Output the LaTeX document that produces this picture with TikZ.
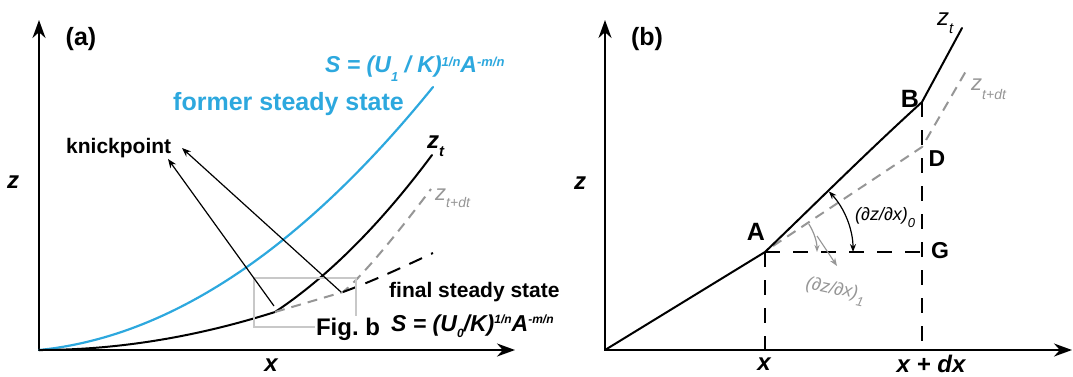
\documentclass[tikz,border=0pt]{standalone}
\usepackage{fontspec}
\setmainfont{Liberation Sans}
\usetikzlibrary{arrows.meta}
\definecolor{skyb}{RGB}{45,168,222}
\definecolor{midgray}{RGB}{150,150,150}
\definecolor{boxgray}{RGB}{200,200,200}
\newcommand{\fsz}[1]{\fontsize{#1}{#1}\selectfont}
\begin{document}
\begin{tikzpicture}[x=1pt,y=-1pt,
  axisline/.style={line width=2.3pt,{Stealth[length=18pt,width=13pt]}-{Stealth[length=18pt,width=13pt]}},
  prof/.style={line width=2pt,line cap=round},
  bluecurve/.style={line width=2.2pt,skyb,line cap=round},
  gdash/.style={line width=2pt,midgray,dash pattern=on 10pt off 7pt},
  kdash/.style={line width=2pt,black,dash pattern=on 14pt off 10pt},
  guide/.style={line width=2pt,black,dash pattern=on 15pt off 13pt},
  leader/.style={line width=1.2pt,-{Stealth[length=9pt,width=7pt]}},
  angarrow/.style={line width=1.2pt,{Stealth[length=8pt,width=6pt]}-{Stealth[length=8pt,width=6pt]}},
  bold/.style={inner sep=0pt,font=\fsz{24}\bfseries},
  bolditx/.style={inner sep=0pt,font=\fsz{24}\bfseries\itshape},
]
\useasboundingbox (0,0) rectangle (1073,376);

% ---------------- panel (a) ----------------
\coordinate (Oa) at (39,350);
\coordinate (Ya) at (39,20);
\coordinate (Xa) at (515,350);
\draw[axisline] (Ya) -- (Oa) -- (Xa);

\coordinate (BlueEnd) at (433,87);
\draw[bluecurve] (Oa) .. controls (170,337) and (302,249) .. (BlueEnd);

\coordinate (Ka) at (275,312);
\coordinate (Ta) at (432,155);
\draw[prof] (Oa) .. controls (118,350) and (196,337) .. (Ka)
  .. controls (327,277.5) and (380,225) .. (Ta);

\coordinate (Ja) at (343,292);
\coordinate (GTa) at (431,189);
\draw[gdash] (Ka) -- (Ja) .. controls (358,280) and (388,246) .. (GTa);
\coordinate (FSa) at (433,253);
\draw[kdash] (Ja) .. controls (373,281) and (403,267) .. (FSa);

% Fig. b box
\draw[boxgray,line width=1.6pt] (254,278) rectangle (356,327);
\node[bold,fill=white,inner sep=1.5pt,anchor=base] (figb) at (348,335) {Fig.\ b};

% knickpoint arrows
\node[inner sep=0pt,font=\fsz{21}\bfseries,anchor=base west] (kp) at (66,153) {knickpoint};
\coordinate (kt1) at (168,159);
\coordinate (kt2) at (182,148);
\coordinate (ks1) at (274,306);
\coordinate (ks2) at (341,292);
\draw[leader] (ks1) -- (kt1);
\draw[leader] (ks2) -- (kt2);

% labels (a)
\node[bold,font=\fsz{25}\bfseries] (pa) at (81,39) {(a)};
\node[bolditx] (za) at (13,182) {z};
\node[bolditx] (xa) at (271,365) {x};
\node[inner sep=0pt,anchor=base west,text=skyb,font=\fsz{23}\bfseries\itshape] (blueS) at (325,72)
  {S = (U\raisebox{-9pt}{\fsz{13}1} / K)\raisebox{6pt}{\fsz{13}1/n}A\raisebox{6pt}{\fsz{13}-m/n}};
\node[inner sep=0pt,anchor=base west,text=skyb,font=\fsz{25}\bfseries] (former) at (173,110) {former steady state};
\node[inner sep=0pt,anchor=base west,font=\fsz{24}\bfseries\itshape] (zta) at (427,148)
  {z\raisebox{-8pt}{\fsz{15}t}};
\node[inner sep=0pt,anchor=base west,text=midgray,font=\fsz{22}\itshape] (ztdta) at (435,200)
  {z\raisebox{-7pt}{\fsz{14}t+dt}};
\node[inner sep=0pt,anchor=base west,font=\fsz{21}\bfseries] (final) at (389,297) {final steady state};
\node[inner sep=0pt,anchor=base west,font=\fsz{23}\bfseries\itshape] (blackS) at (391,331)
  {S = (U\raisebox{-6pt}{\fsz{12}0}/K)\raisebox{8pt}{\fsz{12}1/n}A\raisebox{8pt}{\fsz{12}-m/n}};

% ---------------- panel (b) ----------------
\coordinate (Ob) at (605,350);
\coordinate (Yb) at (605,20);
\coordinate (Xb) at (1072,350);
\draw[axisline] (Yb) -- (Ob) -- (Xb);

\coordinate (A) at (765,252);
\coordinate (B) at (922,102);
\coordinate (Tb) at (962,28);
\coordinate (D) at (922,147);
\coordinate (G) at (922,252);
\coordinate (Ax) at (765,350);
\coordinate (Bx) at (922,350);
\coordinate (GS) at (773,246);
\coordinate (GT) at (966,71);

\draw[guide] (A) -- (Ax);
\draw[guide] (A) -- (G);
\draw[guide] (B) -- (Bx);

\draw[gdash] (GS) -- (D) -- (GT);
\draw[prof,line cap=round,line join=round] (Ob) -- (A) .. controls (812,207) and (868,151) .. (B) -- (Tb);

% angle arrows
\draw[angarrow] ([shift={(-43.5:88)}]A) arc[start angle=-43.5,end angle=0,radius=88];
\draw[midgray,line width=1.2pt,-{Stealth[length=7pt,width=5pt]}] ([shift={(-32.6:52)}]A) arc[start angle=-32.6,end angle=0,radius=52];
\coordinate (L1s) at (817,236);
\coordinate (L1e) at (837,266);
\draw[midgray,line width=1.1pt,-{Stealth[length=8pt,width=6pt]}] (L1s) -- (L1e);

% labels (b)
\node[bold,font=\fsz{25}\bfseries] (pb) at (647,39) {(b)};
\node[bolditx] (zb) at (580,183) {z};
\node[bolditx] (xb) at (764,364) {x};
\node[bolditx] (xdx) at (931,364) {x + dx};
\node[bold,font=\fsz{25}\bfseries] (lA) at (756,232) {A};
\node[bold,font=\fsz{25}\bfseries] (lB) at (910,99) {B};
\node[bold,font=\fsz{23}\bfseries] (lD) at (937,159) {D};
\node[bold,font=\fsz{23}\bfseries] (lG) at (940,251) {G};
\node[inner sep=0pt,anchor=base west,font=\fsz{24}\itshape] (ztb) at (937,25)
  {z\raisebox{-8pt}{\fsz{15}t}};
\node[inner sep=0pt,anchor=base west,text=midgray,font=\fsz{22}\itshape] (ztdtb) at (971,90)
  {z\raisebox{-9pt}{\fsz{14}t+dt}};
\node[inner sep=0pt,anchor=base west,font=\fsz{18}\itshape] (d0) at (855,220)
  {(∂z/∂x)\raisebox{-7pt}{\fsz{13}0}};
\node[inner sep=0pt,anchor=base west,text=midgray,font=\fsz{18}\itshape,rotate=-12] (d1) at (805,288)
  {(∂z/∂x)\raisebox{-7pt}{\fsz{13}1}};
\end{tikzpicture}
\end{document}
